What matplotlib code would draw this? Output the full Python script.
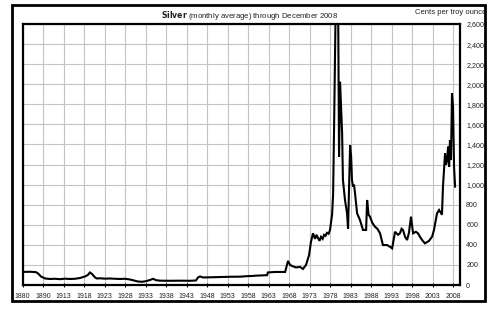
import matplotlib
matplotlib.use("Agg")
import matplotlib.pyplot as plt
from matplotlib.patches import Rectangle

# ---- data ----
x_labels = ["1880", "1890", "1913", "1918", "1923", "1928", "1933", "1938", "1943",
            "1948", "1953", "1958", "1963", "1968", "1973", "1978", "1983", "1988",
            "1993", "1998", "2003", "2008"]
y_ticks = [0, 200, 400, 600, 800, 1000, 1200, 1400, 1600, 1800, 2000, 2200, 2400, 2600]

# position along the category axis (label index units)
pos = [0.00, 0.36, 0.65, 0.75, 0.89, 1.09, 1.33, 1.58, 1.82, 2.06, 2.31, 2.55, 2.80,
       3.04, 3.18, 3.28, 3.38, 3.53, 3.62, 3.77, 4.01, 4.26, 4.50, 4.75, 4.99,
       5.23, 5.43, 5.62, 5.82, 6.01, 6.21, 6.36, 6.50, 6.70, 7.19, 7.67, 8.16,
       8.45, 8.55, 8.65, 8.80, 9.14, 9.63, 10.11, 10.60, 10.94, 11.19, 11.38, 11.67,
       11.92, 11.96, 12.31, 12.80, 12.89, 12.94, 13.04, 13.19, 13.33, 13.53, 13.67,
       13.82, 13.97, 14.06, 14.16, 14.26, 14.33, 14.40, 14.48, 14.55, 14.63, 14.70, 14.77, 14.84, 14.92, 14.99,
       15.09, 15.14, 15.19, 15.24, 15.28, 15.38, 15.43, 15.48, 15.53, 15.58, 15.62, 15.72,
       15.82, 15.87, 15.92, 15.97, 16.02, 16.06, 16.11, 16.16, 16.21, 16.31, 16.45, 16.60,
       16.75, 16.80, 16.87, 16.94, 17.05, 17.18, 17.30, 17.43, 17.57, 17.77, 17.92, 18.02,
       18.16, 18.31, 18.40, 18.48, 18.55, 18.65, 18.75, 18.84, 18.94, 19.04, 19.18, 19.28,
       19.38, 19.48, 19.62, 19.82, 19.97, 20.06, 20.21, 20.31, 20.45, 20.50, 20.60, 20.65,
       20.70, 20.75, 20.80, 20.84, 20.89, 20.94, 20.99, 21.04, 21.09]
cents = [130, 132, 128, 115, 85, 65, 60, 62, 58, 63, 60, 62, 70,
         85, 100, 125, 110, 75, 65, 67, 63, 65, 62, 60, 62,
         55, 45, 35, 32, 38, 50, 62, 48, 43, 42, 43, 42,
         45, 75, 85, 75, 77, 80, 82, 83, 88, 90, 93, 96,
         98, 125, 130, 130, 200, 240, 200, 185, 175, 180, 160,
         200, 300, 430, 515, 460, 500, 470, 440, 480, 460, 500, 490, 520, 510, 548,
         700, 900, 1600, 2400, 3000, 3000, 1278, 2025, 1776, 1511, 1046, 847,
         714, 560, 1000, 1394, 1278, 1050, 980, 1000, 913, 714, 648, 548,
         548, 847, 700, 681, 620, 581, 560, 515, 398, 398, 380, 365,
         530, 500, 515, 560, 548, 480, 448, 520, 681, 515, 530, 515,
         480, 448, 415, 440, 482, 548, 714, 747, 700, 980, 1311, 1200,
         1245, 1378, 1178, 1444, 1245, 1909, 1776, 1178, 980]

W, H = 499, 310
fig = plt.figure(figsize=(W / 100, H / 100), dpi=100)
plt.rcParams['font.family'] = ['Liberation Sans', 'DejaVu Sans']

# outer frame
fig.patches.append(Rectangle((12 / W, 1 - 301 / H), 473 / W, 296 / H,
                             transform=fig.transFigure, fill=False,
                             edgecolor='black', linewidth=2.0, zorder=5))

ax = fig.add_axes([22.7 / W, 1 - 285 / H, (460 - 22.7) / W, (285 - 24) / H])
ax.plot(pos, cents, color='black', linewidth=1.5, solid_joinstyle='miter', zorder=3)

ax.set_xlim(0, 21.33)
ax.set_ylim(0, 2600)
ax.set_xticks(range(len(x_labels)))
ax.set_xticklabels(x_labels, fontsize=5.0, color='#222222')
ax.set_yticks(y_ticks)
ax.set_yticklabels([f"{v:,}" for v in y_ticks], fontsize=5.1, color='#222222')
ax.yaxis.tick_right()
ax.tick_params(axis='y', length=0, pad=4.5)
ax.tick_params(axis='x', length=3, width=0.8, direction='inout', pad=4)
ax.grid(True, color='#c4c4c4', linewidth=0.8, zorder=0)
for s in ax.spines.values():
    s.set_linewidth(1.6)

fig.text(250 / W, 1 - 15 / H, r"$\bf{Silver}$" + " (monthly average) through December 2008",
         ha='center', va='center', fontsize=5.6, color='#222222')
fig.text(486 / W, 1 - 13 / H, "Cents per troy ounce", ha='right', va='center',
         fontsize=5.5, color='#222222')

fig.savefig("out.png", dpi=100)
